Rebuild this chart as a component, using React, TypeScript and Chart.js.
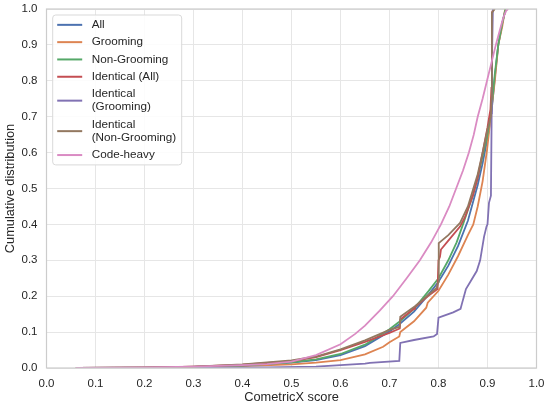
import React, { useEffect, useRef } from "react";
import { Chart, registerables } from "chart.js";

Chart.register(...registerables);

// ---- Tick values ----
const xTickValues = [0, 0.1, 0.2, 0.3, 0.4, 0.5, 0.6, 0.7, 0.8, 0.9, 1.0];
const yTickValues = [0, 0.1, 0.2, 0.3, 0.4, 0.5, 0.6, 0.7, 0.8, 0.9, 1.0];

// ---- Series labels & colours ----
const seriesLabels: string[][] = [
  ["All"],
  ["Grooming"],
  ["Non-Grooming"],
  ["Identical (All)"],
  ["Identical", "(Grooming)"],
  ["Identical", "(Non-Grooming)"],
  ["Code-heavy"],
];
const seriesColors = ["#4C72B0", "#DD8452", "#55A868", "#C44E52", "#8172B3", "#937860", "#DA8BC3"];

// ---- Series values (CometricX score -> cumulative share) ----
const allX = [0.06, 0.2, 0.3, 0.4, 0.5, 0.55, 0.6, 0.65, 0.7, 0.72, 0.75, 0.78, 0.8, 0.82, 0.84, 0.86, 0.88, 0.89, 0.9, 0.908, 0.915, 0.922, 0.93, 0.937];
const allY = [0, 0.001, 0.003, 0.007, 0.015, 0.022, 0.036, 0.061, 0.102, 0.122, 0.157, 0.205, 0.24, 0.285, 0.34, 0.41, 0.51, 0.57, 0.64, 0.71, 0.81, 0.9, 0.96, 1.0];

const groomX = [0.06, 0.2, 0.3, 0.4, 0.5, 0.55, 0.6, 0.65, 0.687, 0.7, 0.72, 0.722, 0.75, 0.775, 0.778, 0.8, 0.82, 0.84, 0.86, 0.871, 0.88, 0.89, 0.899, 0.905, 0.908, 0.915, 0.922, 0.93, 0.936];
const groomY = [0, 0.001, 0.002, 0.005, 0.01, 0.015, 0.022, 0.038, 0.059, 0.072, 0.088, 0.1, 0.13, 0.168, 0.182, 0.215, 0.26, 0.312, 0.37, 0.4, 0.45, 0.52, 0.607, 0.68, 0.72, 0.8, 0.9, 0.95, 1.0];

const nonGroomX = [0.06, 0.2, 0.3, 0.4, 0.5, 0.55, 0.6, 0.65, 0.7, 0.72, 0.75, 0.78, 0.8, 0.82, 0.837, 0.85, 0.86, 0.87, 0.88, 0.89, 0.9, 0.908, 0.915, 0.922, 0.93, 0.937];
const nonGroomY = [0, 0.001, 0.003, 0.007, 0.016, 0.024, 0.039, 0.065, 0.108, 0.129, 0.165, 0.215, 0.25, 0.3, 0.35, 0.4, 0.44, 0.48, 0.53, 0.59, 0.65, 0.72, 0.82, 0.9, 0.96, 1.0];

const identAllX = [0.06, 0.2, 0.3, 0.4, 0.5, 0.55, 0.6, 0.65, 0.7, 0.721, 0.722, 0.75, 0.752, 0.78, 0.798, 0.8, 0.803, 0.805, 0.82, 0.844, 0.854, 0.87, 0.88, 0.89, 0.9, 0.906, 0.908, 0.909, 0.912];
const identAllY = [0, 0.001, 0.004, 0.009, 0.019, 0.03, 0.05, 0.073, 0.098, 0.11, 0.135, 0.165, 0.17, 0.202, 0.22, 0.3, 0.31, 0.33, 0.355, 0.394, 0.42, 0.48, 0.53, 0.6, 0.67, 0.72, 0.78, 0.99, 1.0];

const identGroomX = [0.3, 0.45, 0.55, 0.6, 0.65, 0.66, 0.72, 0.722, 0.75, 0.79, 0.797, 0.8, 0.81, 0.83, 0.845, 0.848, 0.852, 0.856, 0.865, 0.878, 0.885, 0.893, 0.898, 0.9, 0.903, 0.907, 0.9085, 0.909, 0.911];
const identGroomY = [0, 0.002, 0.004, 0.008, 0.012, 0.014, 0.02, 0.07, 0.078, 0.088, 0.095, 0.14, 0.145, 0.155, 0.165, 0.18, 0.2, 0.22, 0.24, 0.27, 0.3, 0.366, 0.394, 0.4, 0.46, 0.48, 0.71, 0.85, 1.0];

const identNonGroomX = [0.06, 0.2, 0.3, 0.4, 0.5, 0.55, 0.6, 0.65, 0.7, 0.721, 0.722, 0.752, 0.796, 0.8, 0.8005, 0.82, 0.844, 0.86, 0.88, 0.89, 0.9, 0.907, 0.908, 0.909, 0.915];
const identNonGroomY = [0, 0.001, 0.004, 0.01, 0.021, 0.032, 0.052, 0.077, 0.106, 0.115, 0.143, 0.172, 0.223, 0.24, 0.348, 0.37, 0.404, 0.45, 0.54, 0.6, 0.665, 0.7, 0.75, 0.99, 1.0];

const codeHeavyX = [0.06, 0.2, 0.3, 0.4, 0.45, 0.5, 0.55, 0.6, 0.63, 0.65, 0.68, 0.707, 0.735, 0.762, 0.785, 0.805, 0.822, 0.836, 0.85, 0.862, 0.872, 0.88, 0.89, 0.899, 0.908, 0.917, 0.925, 0.932, 0.938, 0.942];
const codeHeavyY = [0, 0.002, 0.004, 0.008, 0.011, 0.018, 0.036, 0.066, 0.095, 0.118, 0.16, 0.2, 0.25, 0.3, 0.35, 0.4, 0.45, 0.5, 0.55, 0.6, 0.65, 0.7, 0.75, 0.8, 0.85, 0.9, 0.94, 0.975, 0.995, 1.0];

const seriesX = [allX, groomX, nonGroomX, identAllX, identGroomX, identNonGroomX, codeHeavyX];
const seriesY = [allY, groomY, nonGroomY, identAllY, identGroomY, identNonGroomY, codeHeavyY];

const FONT = "'Liberation Sans', Arial, Helvetica, sans-serif";
const TEXT_COLOR = "#262626";

const innerLegend = {
  id: "innerLegend",
  afterDraw(chart: any) {
    const ctx = chart.ctx;
    const area = chart.chartArea;
    const boxL = area.left + 6.2;
    const boxT = area.top + 6;
    const boxW = 129;
    const lineH = 13.2;
    const gap = 4.1;
    const pad = 1.2;
    let total = 0;
    seriesLabels.forEach((lbl) => (total += lbl.length * lineH + gap));
    const boxH = total + 2 * pad - gap;
    ctx.save();
    ctx.beginPath();
    const r = 3;
    ctx.moveTo(boxL + r, boxT);
    ctx.lineTo(boxL + boxW - r, boxT);
    ctx.quadraticCurveTo(boxL + boxW, boxT, boxL + boxW, boxT + r);
    ctx.lineTo(boxL + boxW, boxT + boxH + gap - r);
    ctx.quadraticCurveTo(boxL + boxW, boxT + boxH + gap, boxL + boxW - r, boxT + boxH + gap);
    ctx.lineTo(boxL + r, boxT + boxH + gap);
    ctx.quadraticCurveTo(boxL, boxT + boxH + gap, boxL, boxT + boxH + gap - r);
    ctx.lineTo(boxL, boxT + r);
    ctx.quadraticCurveTo(boxL, boxT, boxL + r, boxT);
    ctx.closePath();
    ctx.fillStyle = "rgba(255,255,255,0.85)";
    ctx.fill();
    ctx.strokeStyle = "#d9d9d9";
    ctx.lineWidth = 1;
    ctx.stroke();

    ctx.font = `11.7px ${FONT}`;
    ctx.textBaseline = "middle";
    ctx.textAlign = "left";
    let y = boxT + pad + gap / 2;
    seriesLabels.forEach((lbl, i) => {
      const h = lbl.length * lineH;
      const cy = y + h / 2;
      ctx.strokeStyle = seriesColors[i];
      ctx.lineWidth = 2;
      ctx.beginPath();
      ctx.moveTo(boxL + 4.5, cy);
      ctx.lineTo(boxL + 29.5, cy);
      ctx.stroke();
      ctx.fillStyle = TEXT_COLOR;
      lbl.forEach((t, k) => {
        ctx.fillText(t, boxL + 39, y + lineH / 2 + k * lineH);
      });
      y += h + gap;
    });
    ctx.restore();
  },
};

const spines = {
  id: "spines",
  afterDatasetsDraw(chart: any) {
    const ctx = chart.ctx;
    const a = chart.chartArea;
    ctx.save();
    ctx.strokeStyle = "#cccccc";
    ctx.lineWidth = 1.2;
    ctx.strokeRect(a.left, a.top, a.right - a.left, a.bottom - a.top);
    ctx.restore();
  },
};

export default function App() {
  const ref = useRef<HTMLCanvasElement>(null);
  useEffect(() => {
    if (!ref.current) return;
    const datasets = seriesLabels.map((lbl, i) => ({
      label: lbl.join(" "),
      data: seriesX[i].map((x, k) => ({ x, y: seriesY[i][k] })),
      borderColor: seriesColors[i],
      backgroundColor: seriesColors[i],
      borderWidth: 1.8,
      pointRadius: 0,
      tension: 0,
      fill: false,
      order: seriesLabels.length - i,
    }));
    const chart = new Chart(ref.current, {
      type: "line",
      data: { datasets },
      options: {
        animation: false,
        responsive: true,
        maintainAspectRatio: false,
        layout: { padding: { top: 9, right: 13.5, left: 0, bottom: 0 } },
        plugins: { legend: { display: false }, tooltip: { enabled: false } },
        scales: {
          x: {
            type: "linear",
            min: 0,
            max: 1,
            afterBuildTicks: (s: any) => {
              s.ticks = xTickValues.map((v) => ({ value: v }));
            },
            afterFit: (s: any) => {
              s.height = 38;
              s.paddingLeft = 0;
              s.paddingRight = 0;
              s.paddingTop = 0;
              s.paddingBottom = 0;
            },
            ticks: {
              callback: (v: any) => Number(v).toFixed(1),
              color: TEXT_COLOR,
              font: { family: FONT, size: 11.5 },
              padding: 8.5,
              maxRotation: 0,
              autoSkip: false,
            },
            grid: { color: "#e6e6e6", lineWidth: 1, drawTicks: false },
            border: { display: false },
            title: {
              display: true,
              text: "CometricX score",
              color: TEXT_COLOR,
              font: { family: FONT, size: 12.8 },
              padding: { top: 0, bottom: 1.3 },
            },
          },
          y: {
            type: "linear",
            min: 0,
            max: 1,
            afterBuildTicks: (s: any) => {
              s.ticks = yTickValues.map((v) => ({ value: v }));
            },
            afterFit: (s: any) => {
              s.width = 46.5;
              s.paddingLeft = 0;
              s.paddingRight = 0;
              s.paddingTop = 0;
              s.paddingBottom = 0;
            },
            ticks: {
              callback: (v: any) => Number(v).toFixed(1),
              color: TEXT_COLOR,
              font: { family: FONT, size: 11.5 },
              padding: 9,
              autoSkip: false,
            },
            grid: { color: "#e6e6e6", lineWidth: 1, drawTicks: false },
            border: { display: false },
            title: {
              display: true,
              text: "Cumulative distribution",
              color: TEXT_COLOR,
              font: { family: FONT, size: 12.8 },
              padding: { top: 2.3, bottom: 0 },
            },
          },
        },
      },
      plugins: [spines, innerLegend],
    } as any);
    return () => chart.destroy();
  }, []);
  return (
    <div style={{ position: "fixed", left: 0, top: 0, width: 550, height: 406, background: "#fff" }}>
      <canvas ref={ref} />
    </div>
  );
}
